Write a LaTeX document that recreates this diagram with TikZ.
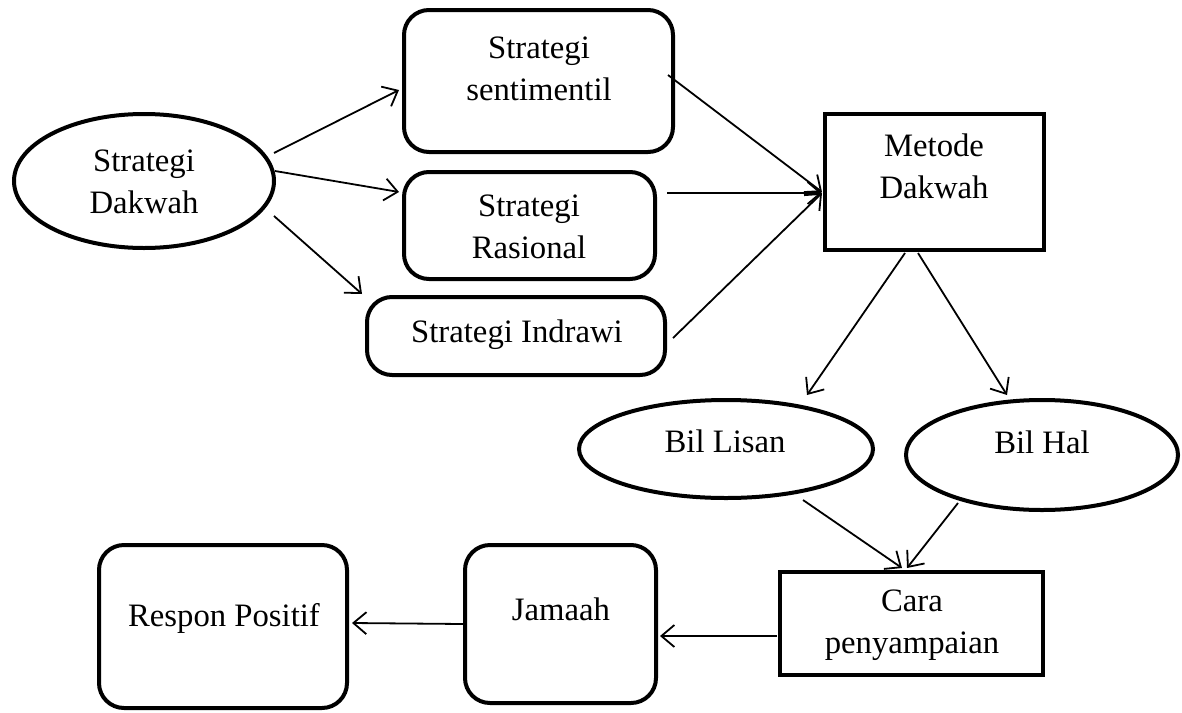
\documentclass[tikz,border=0pt]{standalone}
\usepackage{fontspec}
\setmainfont{Liberation Serif}
\usetikzlibrary{arrows.meta,shapes.geometric,calc}
\begin{document}
\begin{tikzpicture}[x=1pt,y=-1pt,
  shapebox/.style={draw,line width=4pt,inner sep=0pt,rectangle},
  roundbox/.style={shapebox,rounded corners=25pt},
  ovalbox/.style={draw,line width=4pt,inner sep=0pt,ellipse},
  lbl/.style={anchor=base,align=center,inner sep=0pt,font=\fontsize{32.7}{41.5}\selectfont},
  conn/.style={line width=1.8pt,-{Straight Barb[length=13pt,width=22pt,line width=1.8pt]}}
]
\useasboundingbox (0,0) rectangle (1182,712);
% shapes
\node[ovalbox,minimum width=260pt,minimum height=134pt] (sd) at (144,181) {};
\node[roundbox,minimum width=269pt,minimum height=142pt] (sent) at (538.5,81) {};
\node[roundbox,minimum width=251pt,minimum height=107pt] (ras) at (529.5,225.5) {};
\node[roundbox,minimum width=298pt,minimum height=78pt] (ind) at (516,336) {};
\node[shapebox,minimum width=219pt,minimum height=136pt] (met) at (934.5,182) {};
\node[ovalbox,minimum width=294pt,minimum height=98pt] (lis) at (726,449) {};
\node[ovalbox,minimum width=272pt,minimum height=110pt] (hal) at (1042,455) {};
\node[shapebox,minimum width=263pt,minimum height=103pt] (cara) at (911.5,623.5) {};
\node[roundbox,minimum width=191pt,minimum height=158pt] (jam) at (560.5,624) {};
\node[roundbox,minimum width=248pt,minimum height=163pt] (res) at (223,626.5) {};
% texts (base anchor = baseline of the last line)
\node[lbl] (sd-t) at (144,213) {Strategi\\Dakwah};
\node[lbl] (sent-t) at (539,100) {Strategi\\sentimentil};
\node[lbl] (ras-t) at (529,258) {Strategi\\Rasional};
\node[lbl] (ind-t) at (517,342) {Strategi Indrawi};
\node[lbl] (met-t) at (934,198) {Metode\\Dakwah};
\node[lbl] (lis-t) at (725,452) {Bil Lisan};
\node[lbl] (hal-t) at (1042,453) {Bil Hal};
\node[lbl] (cara-t) at (912,653) {Cara\\penyampaian};
\node[lbl] (jam-t) at (561,620) {Jamaah};
\node[lbl] (res-t) at (224,626) {Respon Positif};
% connectors
\draw[conn] ($(sd.center)+(130,-28)$) -- ($(sent.center)+(-139.5,9)$);
\draw[conn] ($(sd.center)+(131,-10)$) -- ($(ras.center)+(-130.5,-33.5)$);
\draw[conn] ($(sd.center)+(130,35)$) -- ($(ind.center)+(-154,-42)$);
\draw[conn] ($(sent.center)+(129.5,-6)$) -- ($(met.center)+(-112.5,10)$);
\draw[conn] ($(ras.center)+(137.5,-32.5)$) -- ($(met.center)+(-112.5,11)$);
\draw[conn] ($(ind.center)+(157,2)$) -- ($(met.center)+(-112.5,11)$);
\draw[conn] ($(met.center)+(-29.5,71)$) -- ($(lis.center)+(81,-54)$);
\draw[conn] ($(met.center)+(-16.5,71)$) -- ($(hal.center)+(-35,-60)$);
\draw[conn] ($(lis.center)+(77,51)$) -- ($(cara.center)+(-9.5,-55.5)$);
\draw[conn] ($(hal.center)+(-84,48)$) -- ($(cara.center)+(-4.5,-55.5)$);
\draw[conn] ($(cara.center)+(-134.5,12.5)$) -- ($(jam.center)+(99.5,12)$);
\draw[conn] ($(jam.center)+(-97.5,0)$) -- ($(res.center)+(129,-3.5)$);
\end{tikzpicture}
\end{document}
